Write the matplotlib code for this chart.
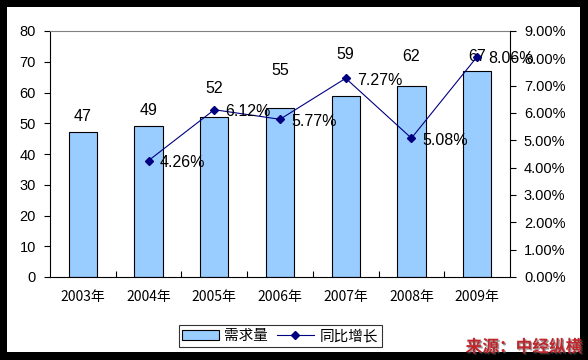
import matplotlib
matplotlib.use("Agg")
import matplotlib.pyplot as plt
import matplotlib.patheffects as pe
from matplotlib.patches import Rectangle
from matplotlib.ticker import FuncFormatter, MultipleLocator

years = ["2003年", "2004年", "2005年", "2006年", "2007年", "2008年", "2009年"]
demand = [47, 49, 52, 55, 59, 62, 67]
growth_years = [1, 2, 3, 4, 5, 6]
growth = [4.26, 6.12, 5.77, 7.27, 5.08, 8.06]
# vertical offset (points) of each bar's value label above the bar top
bar_label_dy = [8.5, 8.5, 17.5, 24, 26.5, 18, 7.5]

plt.rcParams['font.family'] = ['Liberation Sans', 'Noto Sans CJK SC']

W, H = 588, 360
fig = plt.figure(figsize=(W / 100, H / 100), dpi=100, facecolor='black')
fig.patches.append(Rectangle((7 / W, 8 / H), (580 - 7) / W, (353 - 8) / H,
                             transform=fig.transFigure, facecolor='white',
                             edgecolor='none', zorder=-10))

ax = fig.add_axes([50 / W, 1 - 277 / H, (510 - 50) / W, (277 - 31) / H])
ax.set_facecolor('white')
x = list(range(len(years)))
bars = ax.bar(x, demand, width=0.43, color='#99CCFF', edgecolor='black',
              linewidth=0.8, zorder=2, label='需求量')
ax.set_xlim(-0.5, len(years) - 0.5)
ax.set_ylim(0, 80)
ax.yaxis.set_major_locator(MultipleLocator(10))
ax.set_xticks(x)
ax.set_xticklabels(years, fontsize=10, family=['Noto Sans CJK SC'])
ax.tick_params(axis='x', length=0, pad=9)
ax.set_xticks([i + 0.5 for i in x[:-1]], minor=True)
ax.tick_params(axis='x', which='minor', direction='in', length=4, width=0.8)
ax.tick_params(axis='y', direction='out', length=4, labelsize=10.5, pad=6, width=0.8)
for s in ['left', 'bottom']:
    ax.spines[s].set_color('black')
    ax.spines[s].set_linewidth(0.8)
ax.spines['top'].set_color('#808080')
ax.spines['top'].set_linewidth(0.8)
ax.spines['right'].set_visible(False)

for xi, v, dy in zip(x, demand, bar_label_dy):
    ax.annotate(str(v), (xi, v), xytext=(0, dy), textcoords='offset points',
                ha='center', va='baseline', fontsize=11.5)

ax2 = ax.twinx()
line, = ax2.plot(growth_years, growth, color='#000080', linewidth=0.8,
                 marker='D', markersize=4.5, zorder=3, label='同比增长')
ax2.set_ylim(0, 9)
ax2.yaxis.set_major_locator(MultipleLocator(1))
ax2.yaxis.set_major_formatter(FuncFormatter(lambda v, p: f"{v:.2f}%"))
ax2.tick_params(axis='y', direction='out', length=4, labelsize=10.5, pad=6, width=0.8)
ax2.spines['right'].set_color('black')
ax2.spines['right'].set_linewidth(0.8)
ax2.spines['top'].set_visible(False)
ax2.spines['left'].set_visible(False)
ax2.spines['bottom'].set_visible(False)
for xi, v in zip(growth_years, growth):
    ax2.annotate(f"{v:.2f}%", (xi, v), xytext=(8, -1.5), textcoords='offset points',
                 ha='left', va='center', fontsize=11.5)

leg = fig.legend([bars, line], ['需求量', '同比增长'], loc='center',
                 bbox_to_anchor=(280 / W, 1 - 336 / H), ncol=2, frameon=True,
                 fancybox=False, edgecolor='black',
                 handlelength=2.5, handletextpad=0.4, columnspacing=0.6,
                 borderpad=0.25, prop={'family': ['Noto Sans CJK SC'], 'size': 10.5})
leg.get_frame().set_linewidth(0.8)

fig.text(582 / W, 1 - 347 / H, "来源：中经纵横", ha='right', va='center',
         color='#C0272D', fontsize=12, fontweight='bold', style='italic',
         family=['Noto Sans CJK SC'],
         path_effects=[pe.SimplePatchShadow(offset=(1, -1), shadow_rgbFace='#555555', alpha=0.6),
                       pe.Normal()])

fig.savefig('out.png', dpi=100, facecolor='black')
